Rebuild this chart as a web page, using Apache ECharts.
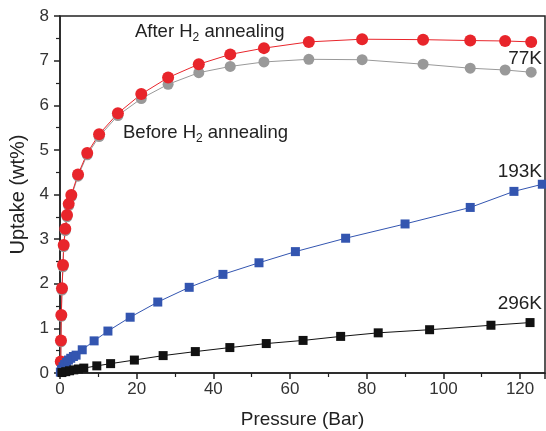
<!DOCTYPE html>
<html>
<head>
<meta charset="utf-8">
<script src="https://cdn.jsdelivr.net/npm/echarts@6/dist/echarts.min.js"></script>
<style>
  html, body { margin: 0; padding: 0; background: #fff; }
  #chart { width: 546px; height: 431px; }
</style>
</head>
<body>
<div id="chart"></div>
<script>
// 77K, after / before H2 annealing (same pressure points)
const pressure77 = [0.2, 0.25, 0.35, 0.52, 0.78, 0.96, 1.38, 1.83, 2.27, 2.95, 4.7, 7.1, 10.2, 15.1, 21.2, 28.2, 36.2, 44.4, 53.2, 64.9, 78.8, 94.7, 107, 116.1, 122.9]
const uptakeAfter = [0.26, 0.73, 1.30, 1.90, 2.42, 2.87, 3.23, 3.54, 3.79, 3.99, 4.45, 4.93, 5.35, 5.82, 6.25, 6.62, 6.92, 7.14, 7.28, 7.42, 7.48, 7.47, 7.45, 7.44, 7.42]
const uptakeBefore = [0.24, 0.70, 1.27, 1.86, 2.38, 2.83, 3.19, 3.50, 3.75, 3.95, 4.41, 4.89, 5.30, 5.77, 6.15, 6.47, 6.73, 6.87, 6.97, 7.03, 7.02, 6.92, 6.83, 6.79, 6.74]

// 193K
const pressure193 = [0.1, 0.4, 0.8, 1.2, 1.7, 2.2, 2.8, 3.5, 4.2, 5.8, 8.9, 12.5, 18.3, 25.5, 33.7, 42.5, 51.9, 61.4, 74.5, 90, 107, 118.4, 125.8]
const uptake193 = [0.02, 0.08, 0.14, 0.19, 0.24, 0.29, 0.33, 0.37, 0.40, 0.52, 0.72, 0.94, 1.25, 1.59, 1.92, 2.21, 2.47, 2.72, 3.02, 3.34, 3.71, 4.07, 4.23]

// 296K
const pressure296 = [0.5, 1.5, 2.5, 3.6, 4.8, 6.2, 9.6, 13.2, 19.4, 26.9, 35.3, 44.3, 53.8, 63.4, 73.2, 83, 96.4, 112.4, 122.6]
const uptake296 = [0.01, 0.03, 0.05, 0.07, 0.09, 0.11, 0.16, 0.21, 0.29, 0.39, 0.48, 0.57, 0.66, 0.73, 0.82, 0.90, 0.97, 1.07, 1.13]

const pairs = (xs, ys) => xs.map((x, i) => [x, ys[i]])

const chart = echarts.init(document.getElementById('chart'))

const fontFamily = 'Liberation Sans, Arial, sans-serif'
const axisColor = '#222'

const subRich = {
  sub: { fontSize: 12, padding: [13, 0, 0, 0], fontFamily: fontFamily, fill: '#222', color: '#222' }
}

// 文字标注
const makeLabel = (pos, text, fontSize, rich) => Object.assign({
  type: 'text',
  style: {
    text: text,
    fontSize: fontSize,
    fontFamily: fontFamily,
    fill: '#222',
    rich: rich
  }
}, pos)

const option = {
  animation: false,
  grid: {
    left: 60, top: 16, right: 1, bottom: 58,
    outerBoundsMode: 'none',
    containLabel: false,
    show: true,
    borderColor: axisColor,
    borderWidth: 1.5
  },
  xAxis: {
    type: 'value',
    min: 0,
    max: 126.5,
    interval: 20,
    name: 'Pressure (Bar)',
    nameLocation: 'middle',
    nameGap: 37,
    nameTextStyle: { fontSize: 19, fontFamily: fontFamily, color: '#222' },
    axisLine: { lineStyle: { color: axisColor, width: 1.5 } },
    axisTick: { inside: false, length: 6, lineStyle: { color: axisColor, width: 1.5 } },
    minorTick: { show: true, splitNumber: 2, length: 4, lineStyle: { color: axisColor, width: 1.2 } },
    axisLabel: { fontSize: 17, fontFamily: fontFamily, color: '#333', margin: 8, showMaxLabel: false },
    splitLine: { show: false }
  },
  yAxis: {
    type: 'value',
    min: 0,
    max: 8,
    interval: 1,
    name: 'Uptake (wt%)',
    nameLocation: 'middle',
    nameGap: 30,
    nameTextStyle: { fontSize: 20, fontFamily: fontFamily, color: '#222' },
    axisLine: { lineStyle: { color: axisColor, width: 1.5 } },
    axisTick: { inside: false, length: 6, lineStyle: { color: axisColor, width: 1.5 } },
    minorTick: { show: true, splitNumber: 2, length: 4, lineStyle: { color: axisColor, width: 1.2 } },
    axisLabel: { fontSize: 17, fontFamily: fontFamily, color: '#333', margin: 11 },
    splitLine: { show: false }
  },
  series: [
    {
      name: 'Before H2 annealing',
      type: 'line',
      data: pairs(pressure77, uptakeBefore),
      symbol: 'circle',
      symbolSize: 11,
      itemStyle: { color: '#999999' },
      lineStyle: { color: '#999999', width: 1 }
    },
    {
      name: 'After H2 annealing',
      type: 'line',
      data: pairs(pressure77, uptakeAfter),
      symbol: 'circle',
      symbolSize: 12,
      itemStyle: { color: '#e8252b' },
      lineStyle: { color: '#e8252b', width: 1 }
    },
    {
      name: '193K',
      type: 'line',
      data: pairs(pressure193, uptake193),
      symbol: 'rect',
      symbolSize: 9,
      itemStyle: { color: '#3355b0' },
      lineStyle: { color: '#3355b0', width: 1 }
    },
    {
      name: '296K',
      type: 'line',
      data: pairs(pressure296, uptake296),
      symbol: 'rect',
      symbolSize: 9,
      itemStyle: { color: '#111111' },
      lineStyle: { color: '#111111', width: 1 }
    }
  ],
  graphic: [
    makeLabel({ left: 135, top: 22 }, 'After H{sub|2} annealing', 18.5, subRich),
    makeLabel({ left: 123, top: 123 }, 'Before H{sub|2} annealing', 18.5, subRich),
    makeLabel({ right: 4, top: 49 }, '77K', 19),
    makeLabel({ right: 4, top: 162 }, '193K', 19),
    makeLabel({ right: 4, top: 294 }, '296K', 19)
  ]
}

chart.setOption(option)
</script>
</body>
</html>
